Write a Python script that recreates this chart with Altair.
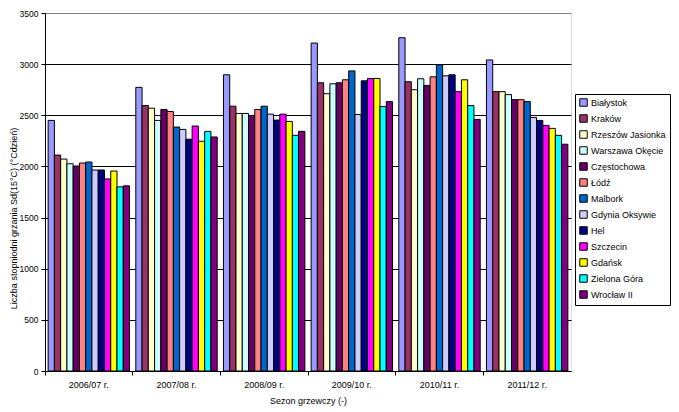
import altair as alt
import pandas as pd

seasons = ["2006/07 r.", "2007/08 r.", "2008/09 r.", "2009/10 r.", "2010/11 r.", "2011/12 r."]
stations = ["Białystok", "Kraków", "Rzeszów Jasionka", "Warszawa Okęcie", "Częstochowa", "Łódź",
            "Malbork", "Gdynia Oksywie", "Hel", "Szczecin", "Gdańsk", "Zielona Góra", "Wrocław II"]
colors = ["#9999FF", "#993366", "#FFFFCC", "#CCFFFF", "#660066", "#FF8080",
          "#0066CC", "#CCCCFF", "#000080", "#FF00FF", "#FFFF00", "#00FFFF", "#800080"]

v_2006_07 = [2450, 2111, 2072, 2026, 2004, 2033, 2043, 1965, 1965, 1878, 1955, 1800, 1810]
v_2007_08 = [2773, 2595, 2569, 2450, 2557, 2537, 2385, 2362, 2266, 2395, 2246, 2343, 2288]
v_2008_09 = [2896, 2589, 2518, 2518, 2498, 2557, 2589, 2511, 2453, 2511, 2440, 2304, 2343]
v_2009_10 = [3206, 2818, 2711, 2808, 2818, 2847, 2934, 2508, 2837, 2860, 2860, 2585, 2634]
v_2010_11 = [3258, 2828, 2750, 2857, 2792, 2876, 2993, 2886, 2896, 2731, 2847, 2595, 2460]
v_2011_12 = [3041, 2731, 2731, 2702, 2653, 2653, 2634, 2479, 2450, 2401, 2372, 2304, 2217]

values = [v_2006_07, v_2007_08, v_2008_09, v_2009_10, v_2010_11, v_2011_12]
rows = []
for s, vals in zip(seasons, values):
    for st, v in zip(stations, vals):
        rows.append({"season": s, "station": st, "value": v})
df = pd.DataFrame(rows)

font = "Liberation Sans"

chart = alt.Chart(df).mark_bar(stroke="black", strokeWidth=1).encode(
    x=alt.X("season:N", sort=seasons,
            scale=alt.Scale(paddingInner=0, paddingOuter=0),
            axis=alt.Axis(title="Sezon grzewczy (-)", labelAngle=0, bandPosition=0,
                          tickSize=4, tickColor="black", domainColor="black",
                          labelPadding=5, titlePadding=7, labelFontSize=9,
                          titleFontSize=9, titleFontWeight="normal",
                          labelFont=font, titleFont=font, labelColor="black",
                          titleColor="black", grid=False)),
    xOffset=alt.XOffset("station:N", sort=stations,
                        scale=alt.Scale(paddingInner=0, paddingOuter=0.5)),
    y=alt.Y("value:Q",
            scale=alt.Scale(domain=[0, 3500], nice=False),
            axis=alt.Axis(title="Liczba stopniodni grzania Sd(15°C) (°Cdzień)",
                          values=[0, 500, 1000, 1500, 2000, 2500, 3000, 3500],
                          format="d",
                          tickSize=4, tickColor="black", domainColor="black",
                          labelPadding=3, labelFontSize=8.5,
                          titleFontSize=9, titleFontWeight="normal",
                          titleX=-27, titleY=205, titleAngle=270,
                          titleAlign="center", titleBaseline="bottom",
                          labelFont=font, titleFont=font, labelColor="black",
                          titleColor="black", grid=True,
                          gridColor={"condition": {"test": "datum.value >= 3500", "value": "#808080"},
                                     "value": "black"},
                          gridOpacity=1)),
    color=alt.Color("station:N", sort=stations,
                    scale=alt.Scale(domain=stations, range=colors),
                    legend=alt.Legend(title=None, orient="none", legendX=530, legendY=81,
                                      symbolType="square", symbolSize=56,
                                      symbolStrokeColor="black", symbolStrokeWidth=1,
                                      labelFont=font, labelFontSize=9, labelColor="black",
                                      labelOffset=3,
                                      rowPadding=3, padding=4, strokeColor="black",
                                      fillColor="white", labelLimit=200)),
).properties(
    width=526, height=358,
    autosize=alt.AutoSizeParams(type="none"),
    padding={"left": 37, "top": 5, "right": 100, "bottom": 38},
).configure_view(
    fill="#C0C0C0", stroke="#808080", strokeWidth=1
).configure(background="white")

chart.save("out.html", embed_options={"renderer": "svg", "actions": False})
